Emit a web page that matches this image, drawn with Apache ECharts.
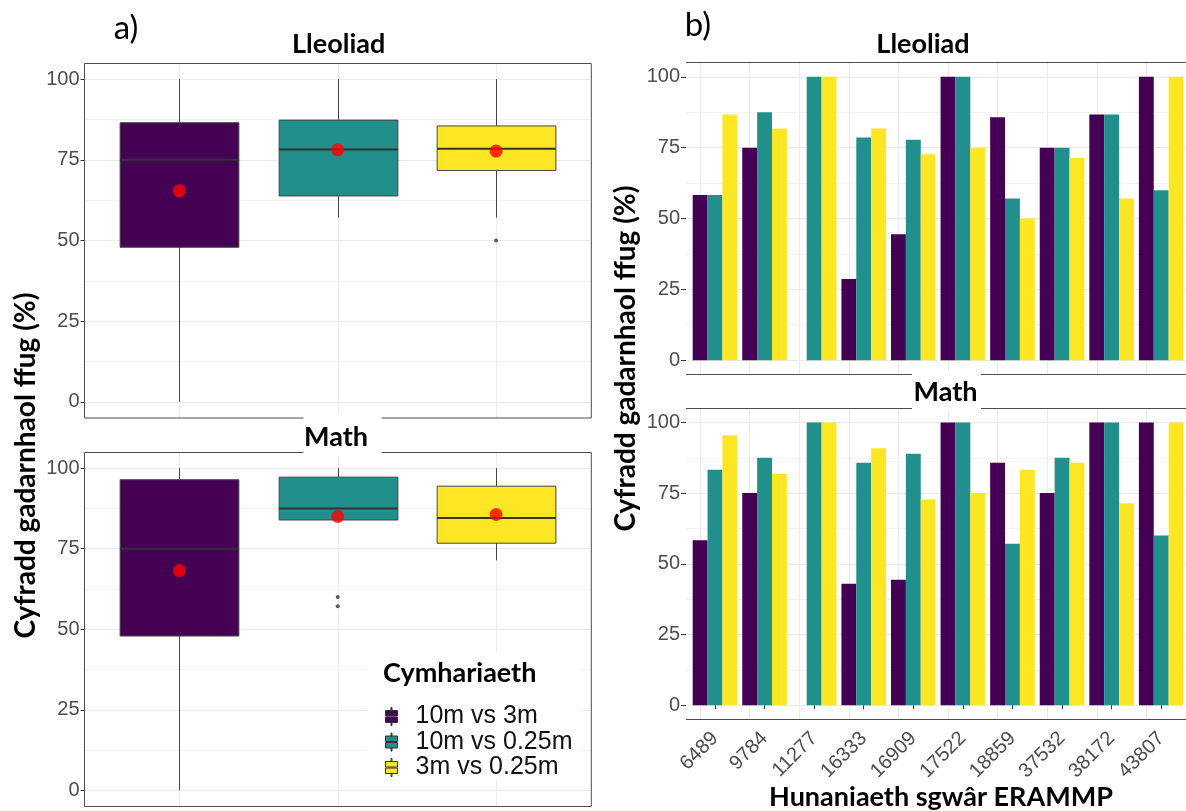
<!DOCTYPE html>
<html><head><meta charset="utf-8">
<script src="https://cdn.jsdelivr.net/npm/echarts@6/dist/echarts.min.js"></script>
<style>html,body{margin:0;padding:0;background:#fff}#c{width:1186px;height:811px}</style>
</head><body><div id="c"></div><script>
// ---------- data ----------
const comparisons = ['10m vs 3m', '10m vs 0.25m', '3m vs 0.25m'];
const compColors = ['#440154', '#21908C', '#FDE725'];
const yTickValues = [0, 25, 50, 75, 100];

// Panel a) Lleoliad box statistics (per comparison)
const lleoliadMin    = [0, 57.1, 57.1];
const lleoliadQ1     = [47.9, 63.8, 71.7];
const lleoliadMedian = [75, 78.2, 78.4];
const lleoliadQ3     = [86.5, 87.3, 85.5];
const lleoliadMax    = [100, 100, 100];
const lleoliadMean   = [65.4, 78.1, 77.7];
const lleoliadOutlierGroup = ['3m vs 0.25m'];
const lleoliadOutlierValue = [50];

// Panel a) Math box statistics
const mathMin    = [0, 83.3, 71.4];
const mathQ1     = [47.9, 83.9, 76.7];
const mathMedian = [75, 87.5, 84.5];
const mathQ3     = [96.4, 97.2, 94.4];
const mathMax    = [100, 100, 100];
const mathMean   = [68.2, 85.0, 85.6];
const mathOutlierGroup = ['10m vs 0.25m', '10m vs 0.25m'];
const mathOutlierValue = [60, 57.1];

// Panel b) ERAMMP squares
const sites = ['6489', '9784', '11277', '16333', '16909', '17522', '18859', '37532', '38172', '43807'];
const lleoliad10v3   = [58.3, 75, 0, 28.6, 44.4, 100, 85.7, 75, 86.7, 100];
const lleoliad10v025 = [58.3, 87.5, 100, 78.6, 77.8, 100, 57.1, 75, 86.7, 60];
const lleoliad3v025  = [86.7, 81.8, 100, 81.8, 72.7, 75, 50, 71.4, 57.1, 100];
const math10v3   = [58.3, 75, 0, 42.9, 44.4, 100, 85.7, 75, 100, 100];
const math10v025 = [83.3, 87.5, 100, 85.7, 88.9, 100, 57.1, 87.5, 100, 60];
const math3v025  = [95.5, 81.8, 100, 90.9, 72.7, 75, 83.3, 85.7, 71.4, 100];

// ---------- layout ----------
const TICK_FONT = 'Liberation Sans, Arial, sans-serif';
const TITLE_FONT = 'Lato, Open Sans, sans-serif';
const GRID_MAJOR = '#EBEBEB';
const GRID_MINOR = '#F4F4F4';
const TXT_GRAY = '#4D4D4D';

const panels = [
  {L: 84.5, R: 591.3, T: 63,    B: 418,   bandL: 100.3, bandR: 575.2},
  {L: 84.5, R: 591.3, T: 452,   B: 806.5, bandL: 100.3, bandR: 575.2},
  {L: 686,  R: 1186,  T: 62.7,  B: 374.3, bandL: 690.2, bandR: 1187.2},
  {L: 686,  R: 1186,  T: 408.3, B: 719.3, bandL: 690.2, bandR: 1187.2}
];

const grids = [], xAxes = [], yAxes = [];
panels.forEach((p, i) => {
  const h = p.B - p.T;
  grids.push({left: p.L, width: p.R - p.L, top: p.T + h * 5 / 110, height: h * 100 / 110});
  grids.push({left: p.bandL, width: p.bandR - p.bandL, top: p.T, height: h});
  const isLeft = i < 2;
  xAxes.push({gridIndex: 2 * i, type: 'value', min: 0, max: 1, show: false});
  yAxes.push({
    gridIndex: 2 * i, type: 'value', min: 0, max: 100, interval: 25,
    axisLine: {show: false},
    axisTick: {show: true, length: isLeft ? 4 : 5, lineStyle: {color: '#333', width: 1}},
    axisLabel: {color: TXT_GRAY, fontSize: 20, fontFamily: TICK_FONT, margin: isLeft ? 5 : 6,
      formatter: v => yTickValues.includes(v) ? String(v) : ''},
    splitLine: {show: true, lineStyle: {color: GRID_MAJOR, width: 1}},
    minorTick: {show: false, splitNumber: 2},
    minorSplitLine: {show: true, lineStyle: {color: GRID_MINOR, width: 1}}
  });
  const cats = isLeft ? comparisons : sites;
  const showTicks = (i === 1 || i === 3);
  xAxes.push({
    gridIndex: 2 * i + 1, type: 'category', data: cats,
    axisLine: {show: false},
    axisTick: {show: showTicks, alignWithLabel: true, length: 4, lineStyle: {color: '#333', width: 1}},
    axisLabel: i === 3 ? {show: true, rotate: 45, margin: 16, color: TXT_GRAY, fontSize: 20, fontFamily: TICK_FONT, interval: 0} : {show: false},
    splitLine: {show: false}
  });
  yAxes.push({gridIndex: 2 * i + 1, type: 'value', min: -5, max: 105, show: false});
});

function boxRender(params, api) {
  const x = api.value(0);
  const lo = api.coord([x, api.value(1)]);
  const q1 = api.coord([x, api.value(2)]);
  const md = api.coord([x, api.value(3)]);
  const q3 = api.coord([x, api.value(4)]);
  const hi = api.coord([x, api.value(5)]);
  const w = api.size([1, 0])[0] * 0.75;
  const cx = Math.round(lo[0]) + 0.5;
  const color = api.visual('color');
  return {type: 'group', children: [
    {type: 'line', shape: {x1: cx, y1: hi[1], x2: cx, y2: q3[1]}, style: {stroke: '#444', lineWidth: 1}},
    {type: 'line', shape: {x1: cx, y1: q1[1], x2: cx, y2: lo[1]}, style: {stroke: '#444', lineWidth: 1}},
    {type: 'rect', shape: {x: cx - w / 2, y: q3[1], width: w, height: q1[1] - q3[1]}, style: {fill: color, stroke: '#444', lineWidth: 1}},
    {type: 'line', shape: {x1: cx - w / 2, y1: md[1], x2: cx + w / 2, y2: md[1]}, style: {stroke: '#333', lineWidth: 2}}
  ]};
}

const series = [];
const boxSets = [
  {grid: 1, min: lleoliadMin, q1: lleoliadQ1, med: lleoliadMedian, q3: lleoliadQ3, max: lleoliadMax, mean: lleoliadMean, og: lleoliadOutlierGroup, ov: lleoliadOutlierValue},
  {grid: 3, min: mathMin, q1: mathQ1, med: mathMedian, q3: mathQ3, max: mathMax, mean: mathMean, og: mathOutlierGroup, ov: mathOutlierValue}
];
boxSets.forEach(s => {
  comparisons.forEach((c, k) => {
    series.push({
      type: 'custom', name: c, xAxisIndex: s.grid, yAxisIndex: s.grid,
      itemStyle: {color: compColors[k]},
      dimensions: ['comparison', 'min', 'q1', 'median', 'q3', 'max'],
      encode: {x: 0, y: [1, 2, 3, 4, 5]},
      renderItem: boxRender, z: 2,
      data: [[c, s.min[k], s.q1[k], s.med[k], s.q3[k], s.max[k]]]
    });
  });
  series.push({
    type: 'scatter', name: 'outliers', xAxisIndex: s.grid, yAxisIndex: s.grid,
    symbolSize: 4, itemStyle: {color: '#333'}, z: 3, silent: true,
    data: s.og.map((g, j) => [g, s.ov[j]])
  });
  series.push({
    type: 'scatter', name: 'mean', xAxisIndex: s.grid, yAxisIndex: s.grid,
    symbolSize: 13, itemStyle: {color: '#FF0000'}, z: 4, silent: true,
    data: comparisons.map((c, k) => [c, s.mean[k]]),
    markLine: {silent: true, symbol: 'none', z: 1, label: {show: false},
      lineStyle: {color: GRID_MAJOR, width: 1, type: 'solid'},
      data: comparisons.map(c => ({xAxis: c}))}
  });
});

const barSets = [
  {grid: 5, vals: [lleoliad10v3, lleoliad10v025, lleoliad3v025]},
  {grid: 7, vals: [math10v3, math10v025, math3v025]}
];
barSets.forEach(b => {
  b.vals.forEach((v, k) => {
    const s = {
      type: 'bar', name: comparisons[k], xAxisIndex: b.grid, yAxisIndex: b.grid,
      barGap: '0%', barCategoryGap: '10%', itemStyle: {color: compColors[k]},
      data: v, z: 2, silent: true
    };
    if (k === 0) {
      s.markLine = {silent: true, symbol: 'none', z: 1, label: {show: false},
        lineStyle: {color: GRID_MAJOR, width: 1, type: 'solid'},
        data: sites.map(c => ({xAxis: c}))};
    }
    series.push(s);
  });
});

// ---------- decorations ----------
const txt = (text, x, y, font, opts = {}) => Object.assign({
  type: 'text', x, y, z: 10,
  style: Object.assign({text, font, fill: '#000', align: 'center', verticalAlign: 'middle',
    textAlign: 'center', textVerticalAlign: 'middle'}, opts.style || {})
}, opts.el || {});

const graphic = [
  {type: 'rect', z: 4, shape: {x: 84.5, y: 63.5, width: 506.8, height: 354.5}, style: {fill: 'none', stroke: '#4D4D4D', lineWidth: 1}},
  {type: 'rect', z: 4, shape: {x: 84.5, y: 452.5, width: 506.8, height: 354}, style: {fill: 'none', stroke: '#4D4D4D', lineWidth: 1}},
  {type: 'line', z: 4, shape: {x1: 686, y1: 62.5, x2: 1186, y2: 62.5}, style: {stroke: '#4D4D4D', lineWidth: 1}},
  {type: 'line', z: 4, shape: {x1: 686, y1: 374.5, x2: 1186, y2: 374.5}, style: {stroke: '#4D4D4D', lineWidth: 1}},
  {type: 'line', z: 4, shape: {x1: 686, y1: 408.5, x2: 1186, y2: 408.5}, style: {stroke: '#4D4D4D', lineWidth: 1}},
  {type: 'line', z: 4, shape: {x1: 686, y1: 719.5, x2: 1186, y2: 719.5}, style: {stroke: '#4D4D4D', lineWidth: 1}},
  {type: 'rect', z: 5, shape: {x: 303.5, y: 414, width: 78, height: 42}, style: {fill: '#fff'}},
  {type: 'rect', z: 5, shape: {x: 912, y: 371, width: 69, height: 40}, style: {fill: '#fff'}},
  {type: 'rect', z: 5, shape: {x: 367, y: 652, width: 213, height: 128}, style: {fill: '#fff'}},
  txt('a)', 126, 28.5, '33px ' + TITLE_FONT),
  txt('b)', 698, 25, '33px ' + TITLE_FONT),
  txt('Lleoliad', 338.7, 44, 'bold 27px ' + TITLE_FONT),
  txt('Lleoliad', 923, 44, 'bold 27px ' + TITLE_FONT),
  txt('Math', 336, 437, 'bold 27px ' + TITLE_FONT),
  txt('Math', 945.5, 392, 'bold 27px ' + TITLE_FONT),
  txt('Cyfradd gadarnhaol ffug (%)', 26, 465.5, 'bold 28px ' + TITLE_FONT, {el: {rotation: Math.PI / 2}}),
  txt('Cyfradd gadarnhaol ffug (%)', 626, 358.5, 'bold 28px ' + TITLE_FONT, {el: {rotation: Math.PI / 2}}),
  txt('Hunaniaeth sgwâr ERAMMP', 941, 797, 'bold 27px ' + TITLE_FONT),
  txt('Cymhariaeth', 383, 673, 'bold 27px ' + TITLE_FONT, {style: {align: 'left', textAlign: 'left'}})
];

const option = {
  animation: false,
  backgroundColor: '#fff',
  grid: grids,
  xAxis: xAxes,
  yAxis: yAxes,
  legend: {
    data: comparisons, orient: 'vertical', left: 385, top: 704, z: 12,
    selectedMode: false, itemGap: 0.5, itemWidth: 12, itemHeight: 18, padding: 0,
    icon: 'path://M5.5,0h1v3h-1z M0,3h12v5.5h-12z M0,9.5h12v5.5h-12z M5.5,15h1v3h-1z',
    itemStyle: {borderColor: '#333', borderWidth: 1},
    textStyle: {fontSize: 25, lineHeight: 24, fontFamily: TICK_FONT, color: '#111', padding: [0, 0, 0, 13]}
  },
  graphic: graphic,
  series: series
};

const chart = echarts.init(document.getElementById('c'), null, {renderer: 'canvas'});
chart.setOption(option);
</script></body></html>
